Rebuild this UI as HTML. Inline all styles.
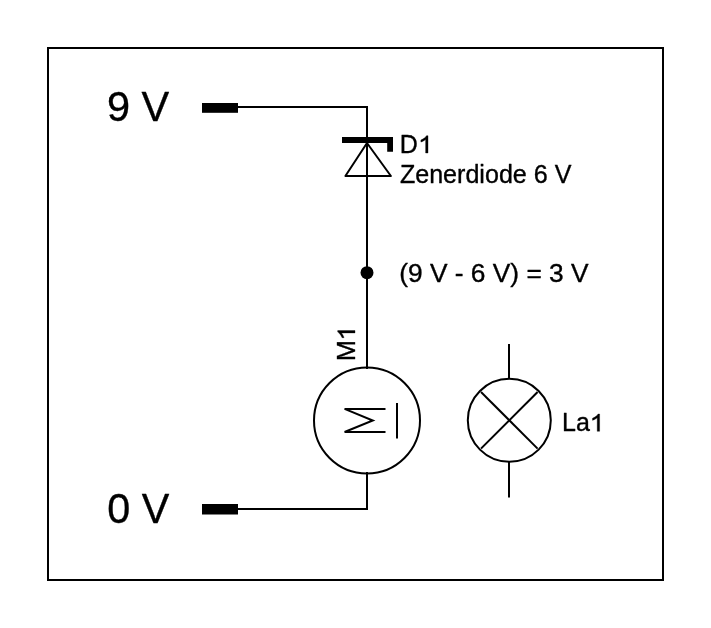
<!DOCTYPE html>
<html>
<head>
<meta charset="utf-8">
<title>Zenerdiode circuit</title>
<style>
html,body{margin:0;padding:0;background:#fff;}
body{width:711px;height:628px;overflow:hidden;}
svg{display:block;will-change:transform;}
text{font-family:"Liberation Sans",sans-serif;fill:#000;}
</style>
</head>
<body>
<svg width="711" height="628" viewBox="0 0 711 628">
<rect x="0" y="0" width="711" height="628" fill="#fff"/>
<!-- frame -->
<rect x="48" y="48" width="615" height="532" fill="none" stroke="#000" stroke-width="2"/>
<!-- wires -->
<g fill="none" stroke="#000" stroke-width="2" stroke-linecap="square">
<polyline points="238,107 367,107 367,368"/>
<polyline points="238,509 367,509 367,473"/>
<!-- diode triangle -->
<polygon points="367,143 345.4,176 390.9,176" stroke-linejoin="round"/>
<!-- motor -->
<circle cx="367" cy="420.5" r="53"/>
<polyline points="385.5,408.9 344.6,408.9 372.8,420.5 344.6,432 385.5,432" stroke-linecap="butt"/>
<line x1="397" y1="403" x2="397" y2="438.5" stroke-linecap="butt"/>
<!-- lamp -->
<circle cx="509.3" cy="420.3" r="41.5"/>
<line x1="509" y1="344" x2="509" y2="379" stroke-linecap="butt"/>
<line x1="509" y1="462" x2="509" y2="497.5" stroke-linecap="butt"/>
<line x1="481" y1="392" x2="537.6" y2="448.6" stroke-linecap="butt"/>
<line x1="537.6" y1="392" x2="481" y2="448.6" stroke-linecap="butt"/>
</g>
<!-- terminals -->
<rect x="202" y="103" width="36" height="9.8" fill="#000"/>
<rect x="202" y="504" width="36" height="10.5" fill="#000"/>
<!-- zener bar -->
<path d="M342,137 H393 V151.7 H387.2 V143 H342 Z" fill="#000"/>
<!-- junction -->
<circle cx="367" cy="272.7" r="6.5" fill="#000"/>
<!-- labels -->
<g class="lbl" stroke="#000" stroke-width="0.35" stroke-linejoin="round">
<text x="106.9" y="121.3" font-size="41.7" textLength="62.3" lengthAdjust="spacingAndGlyphs">9 V</text>
<text x="107.3" y="523" font-size="41.7" textLength="62.0" lengthAdjust="spacingAndGlyphs">0 V</text>
<text x="399.7" y="153" font-size="25">D</text>
<path d="M428.00,153.00 L425.63,153.00 L425.63,139.52 Q424.77,140.25 423.38,140.98 Q421.99,141.71 420.88,142.07 L420.88,140.03 Q422.87,139.19 424.36,138.00 Q425.85,136.82 426.47,135.70 L428.00,135.70 Z"/>
<text x="399.9" y="182.6" font-size="25" textLength="171.5" lengthAdjust="spacingAndGlyphs">Zenerdiode 6 V</text>
<text x="399.2" y="282.4" font-size="25" textLength="189.4" lengthAdjust="spacingAndGlyphs">(9 V - 6 V) = 3 V</text>
<text x="562" y="431.3" font-size="25">La</text>
<path d="M599.60,431.30 L597.23,431.30 L597.23,417.82 Q596.37,418.55 594.98,419.28 Q593.59,420.01 592.48,420.37 L592.48,418.32 Q594.47,417.49 595.96,416.30 Q597.45,415.12 598.07,414.00 L599.60,414.00 Z"/>
<text transform="translate(355,361) rotate(-90)" font-size="25">M</text>
<path d="M355.00,330.54 L355.00,332.91 L341.52,332.91 Q342.25,333.77 342.98,335.16 Q343.71,336.55 344.07,337.66 L342.02,337.66 Q341.19,335.67 340.00,334.18 Q338.82,332.69 337.70,332.07 L337.70,330.54 Z"/>
</g>
</svg>
</body>
</html>
